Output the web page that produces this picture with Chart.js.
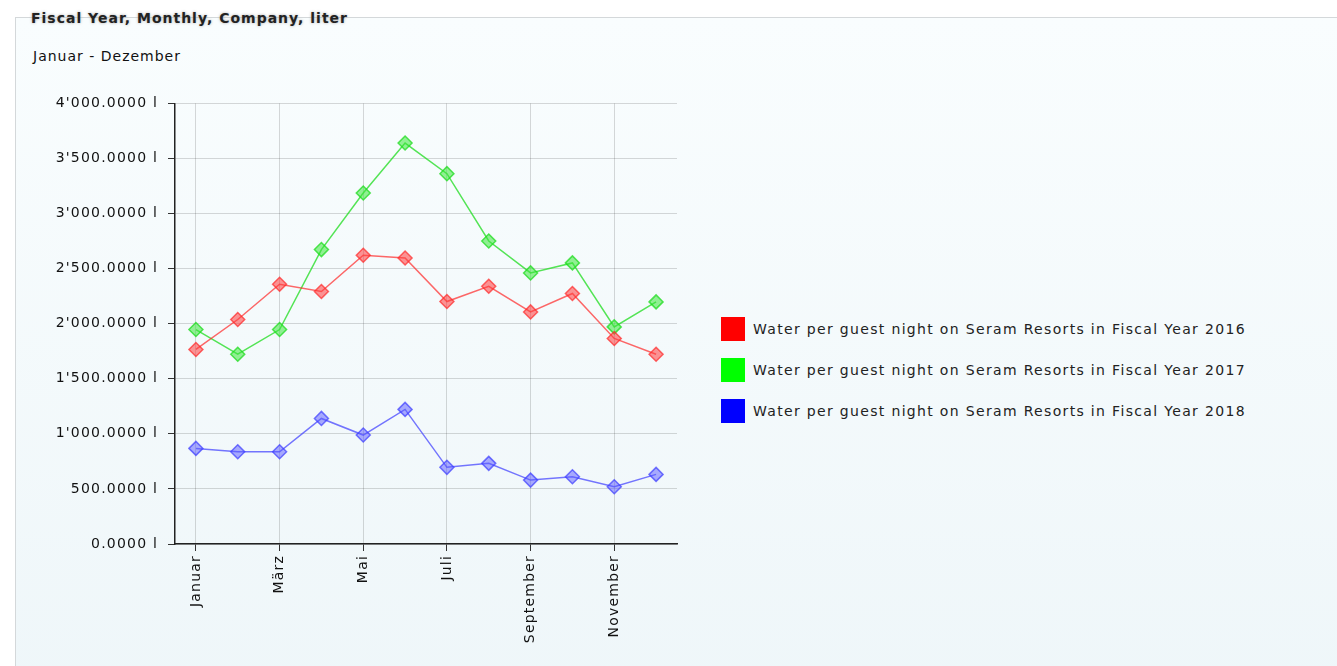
<!DOCTYPE html>
<html>
<head>
<meta charset="utf-8">
<script src="https://cdn.jsdelivr.net/npm/chart.js@4.4.1/dist/chart.umd.min.js"></script>
<style>
  body { margin: 0; background: #fff; width: 1337px; height: 666px; overflow: hidden; font-family: "DejaVu Sans", Verdana, sans-serif; }
  #panel { position: absolute; left: 15px; top: 17px; width: 1340px; height: 700px; border: 1px solid #d4d8da;
    background: linear-gradient(#f9fdfe, #eef6f9); }
  #title { position: absolute; left: 31px; top: 10px; font-weight: bold; font-size: 14px; letter-spacing: 1px; color: #222;
    text-shadow: 0 0 3px #aaa; }
  #sub { position: absolute; left: 33px; top: 48px; font-size: 14px; letter-spacing: 1px; color: #111; }
  #box { position: absolute; left: 20px; top: 85px; width: 667px; height: 581px; }
  #legend { position: absolute; left: 721px; top: 317px; font-size: 14px; letter-spacing: 1.33px; color: #222; }
  .row { height: 41px; display: flex; align-items: flex-start; }
  .sw { width: 24px; height: 24px; margin-right: 8px; }
  .row span { line-height: 24px; }
</style>
</head>
<body>
<div id="panel"></div>
<div id="title">Fiscal Year, Monthly, Company, liter</div>
<div id="sub">Januar - Dezember</div>
<div id="box"><canvas id="c"></canvas></div>
<div id="legend"></div>
<script>
const months = ['Januar', 'Februar', 'März', 'April', 'Mai', 'Juni', 'Juli', 'August', 'September', 'Oktober', 'November', 'Dezember'];

const fy2016 = [1766, 2038, 2358, 2292, 2621, 2597, 2201, 2340, 2107, 2274, 1866, 1723];
const fy2017 = [1947, 1723, 1947, 2673, 3187, 3640, 3362, 2751, 2461, 2552, 1971, 2198];
const fy2018 = [868, 837, 837, 1140, 989, 1222, 696, 732, 580, 611, 520, 632];

const seriesNames = [
    'Water per guest night on Seram Resorts in Fiscal Year 2016',
    'Water per guest night on Seram Resorts in Fiscal Year 2017',
    'Water per guest night on Seram Resorts in Fiscal Year 2018',
];
const swatch = ['#ff0000', '#00ff00', '#0000ff'];

function ds(i, data, line, fill) {
    return {
        label: seriesNames[i],
        data: data,
        borderColor: line,
        borderWidth: 1.5,
        pointStyle: 'rectRot',
        pointRadius: 7,
        pointHoverRadius: 7,
        pointBackgroundColor: fill,
        pointBorderColor: line,
        pointBorderWidth: 1.5,
        tension: 0,
    };
}

function fmt(v) {
    const s = v.toFixed(4).split('.');
    return s[0].replace(/\B(?=(\d{3})+(?!\d))/g, "'") + '.' + s[1] + ' l';
}

// the old chart font is spaced wider than DejaVu, so stretch it a bit
const spacing = {
    id: 'spacing',
    beforeLayout: (chart) => { chart.ctx.letterSpacing = '1.2px'; },
    beforeDraw: (chart) => { chart.ctx.letterSpacing = '1.2px'; },
};

const axisFont = { family: 'DejaVu Sans', size: 14 };

new Chart(document.getElementById('c'), {
    type: 'line',
    plugins: [spacing],
    data: {
        labels: months,
        datasets: [
            ds(0, fy2016, 'rgba(255,40,40,0.7)', 'rgba(255,60,60,0.55)'),
            ds(1, fy2017, 'rgba(30,220,30,0.75)', 'rgba(60,230,60,0.55)'),
            ds(2, fy2018, 'rgba(60,60,255,0.7)', 'rgba(90,90,255,0.5)'),
        ],
    },
    options: {
        responsive: true,
        maintainAspectRatio: false,
        animation: false,
        layout: { padding: { top: 0, right: 10, left: 0, bottom: 0 } },
        plugins: { legend: { display: false }, tooltip: { enabled: false } },
        scales: {
            x: {
                offset: true,
                grid: {
                    offset: false,
                    color: (c) => c.index % 2 === 0 ? 'rgba(0,0,0,0.15)' : 'transparent',
                    tickColor: (c) => c.index % 2 === 0 ? '#333' : 'transparent',
                    tickLength: 7,
                },
                border: { color: '#222', width: 1.5 },
                ticks: {
                    autoSkip: false,
                    minRotation: 90,
                    maxRotation: 90,
                    padding: 4,
                    color: '#111',
                    font: axisFont,
                    callback: (v, i) => i % 2 === 0 ? months[i] : '',
                },
                afterFit: (s) => { s.height = 122; },
            },
            y: {
                min: 0,
                max: 4000,
                grid: { color: 'rgba(0,0,0,0.15)', tickColor: '#333', tickLength: 7 },
                border: { color: '#222', width: 1.5 },
                ticks: { stepSize: 500, padding: 10, color: '#111', font: axisFont, callback: (v) => fmt(v) },
                afterFit: (s) => { s.width = 155; },
            },
        },
    },
});

const leg = document.getElementById('legend');
seriesNames.forEach((n, i) => {
    const row = document.createElement('div');
    row.className = 'row';
    row.innerHTML = '<div class="sw" style="background:' + swatch[i] + '"></div><span>' + n + '</span>';
    leg.appendChild(row);
});
</script>
</body>
</html>
